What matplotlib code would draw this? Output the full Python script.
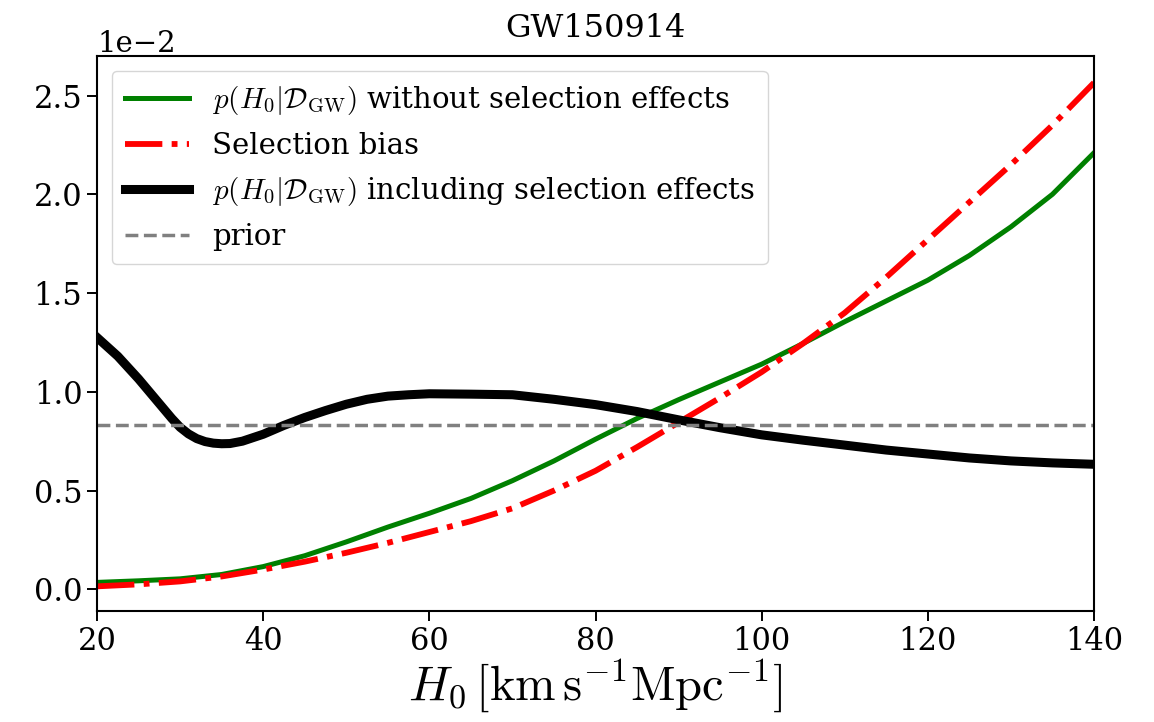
import matplotlib
matplotlib.use("Agg")
import matplotlib.pyplot as plt
import numpy as np

plt.rcParams['font.family'] = 'DejaVu Serif'
plt.rcParams['mathtext.fontset'] = 'cm'

# H0 grid for each series (km/s/Mpc)
H_black = [20, 22.5, 25, 27.5, 29, 30, 31, 32, 33, 34, 35, 36, 37.5, 40, 42.5, 45, 47.5,
           50, 52.5, 55, 57.5, 60, 65, 70, 75, 80, 85, 90, 95, 100, 105, 110, 115, 120,
           125, 130, 135, 140]
p_incl = [1.275, 1.18, 1.065, 0.94, 0.865, 0.82, 0.787, 0.763, 0.748, 0.74, 0.737, 0.738,
          0.75, 0.785, 0.83, 0.87, 0.905, 0.937, 0.962, 0.978, 0.985, 0.99, 0.988, 0.985,
          0.962, 0.935, 0.90, 0.858, 0.818, 0.782, 0.755, 0.73, 0.705, 0.685, 0.665,
          0.65, 0.64, 0.633]

H_grid = [20, 25, 30, 35, 40, 45, 50, 55, 60, 65, 70, 75, 80, 85, 90, 95, 100,
          105, 110, 115, 120, 125, 130, 135, 140]
p_without = [0.035, 0.043, 0.053, 0.075, 0.115, 0.17, 0.24, 0.315, 0.385, 0.46, 0.55,
             0.65, 0.76, 0.865, 0.96, 1.05, 1.14, 1.245, 1.355, 1.46, 1.565, 1.69,
             1.835, 2.0, 2.21]
sel_bias = [0.015, 0.025, 0.04, 0.065, 0.1, 0.14, 0.185, 0.235, 0.29, 0.345, 0.41,
            0.5, 0.6, 0.72, 0.845, 0.97, 1.1, 1.245, 1.4, 1.58, 1.77, 1.96, 2.15,
            2.35, 2.565]

scale = 1e-2
prior_value = 1.0 / 120.0

fig = plt.figure(figsize=(11.54, 7.22), dpi=100)
ax = fig.add_axes([0.0841, 0.1537, 0.948 - 0.0841, 0.9224 - 0.1537])

ax.plot(H_grid, np.array(p_without) * scale, color='green', lw=3.6,
        label=r'$p(H_0|\mathcal{D}_{\rm GW})$ without selection effects')
ax.plot(H_grid, np.array(sel_bias) * scale, color='red', lw=4.2, ls='-.',
        label='Selection bias')
ax.plot(H_black, np.array(p_incl) * scale, color='black', lw=6.5,
        label=r'$p(H_0|\mathcal{D}_{\rm GW})$ including selection effects')
ax.axhline(prior_value, color='gray', lw=2.5, ls='--', label='prior')

ax.set_xlim(20, 140)
ax.set_ylim(-0.0011, 0.0270)
ax.ticklabel_format(axis='y', style='sci', scilimits=(-2, -2))
ax.yaxis.get_offset_text().set_fontsize(21)
ax.tick_params(labelsize=22, length=7, width=1.4)
for s in ax.spines.values():
    s.set_linewidth(1.5)

ax.set_title('GW150914', fontsize=23, pad=14)
ax.set_xlabel(r'$H_0\,[\mathrm{km\,s^{-1}Mpc^{-1}}]$', fontsize=35, labelpad=0)

leg = ax.legend(loc='upper left', fontsize=21, handlelength=2.2, borderpad=0.45,
                labelspacing=0.52, framealpha=0.8)

fig.savefig('out.png', dpi=100)
